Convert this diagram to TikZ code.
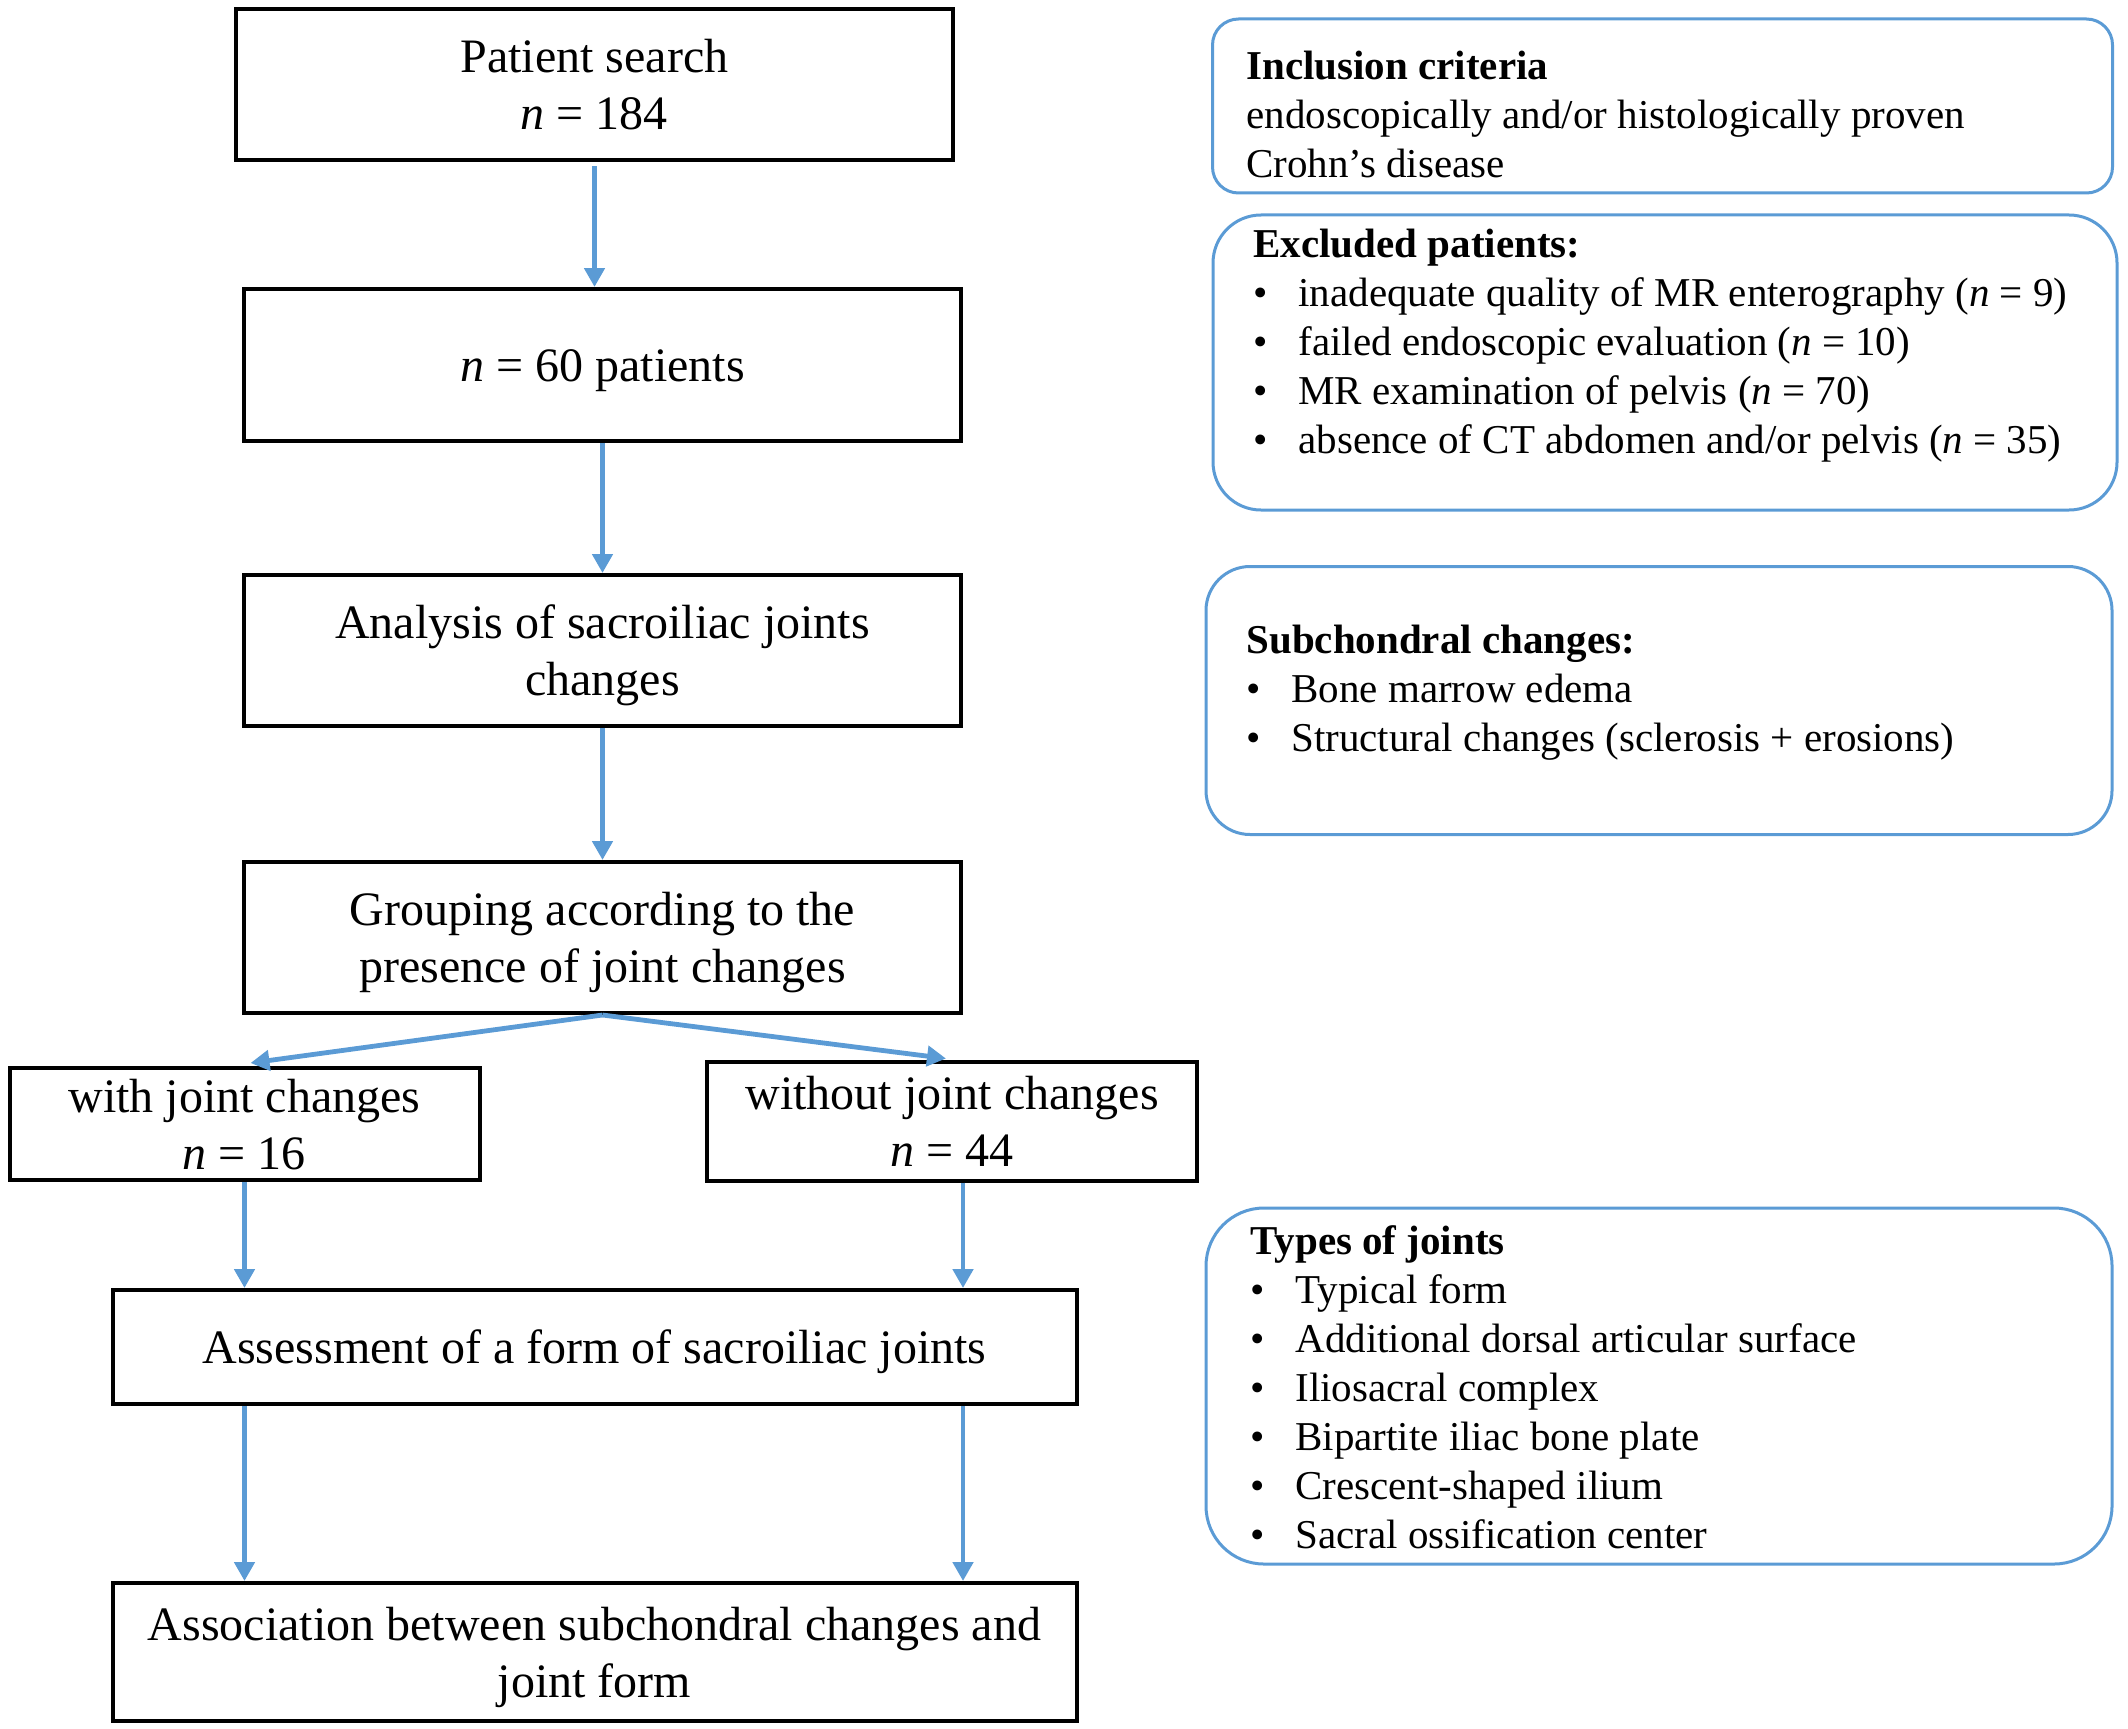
\documentclass[tikz,border=0pt]{standalone}
\usepackage{fontspec}
\setmainfont{Liberation Serif}
\usetikzlibrary{arrows.meta,calc}
\definecolor{ablue}{RGB}{91,155,213}
\newcommand{\fs}{\rule[-5.5pt]{0pt}{27.5pt}}
\begin{document}
\begin{tikzpicture}[x=0.5pt,y=-0.5pt,
  flow/.style={draw=black, line width=2pt, font=\fontsize{24}{28.5}\selectfont, align=center, inner sep=0pt},
  side/.style={draw=ablue, line width=1.5pt},
  arr/.style={draw=ablue, line width=2.4pt, -{Triangle[length=9.5pt,width=10pt]}},
  note/.style={font=\fontsize{20.5}{24.5}\selectfont, align=left, inner sep=0pt, anchor=north west}]
\useasboundingbox (0,0) rectangle (2128,1728);
\newcommand{\bl}{\makebox[22.5pt][l]{\textbullet}}

% flow boxes
\node[flow, minimum width=358.5pt, minimum height=75.5pt] (b1) at (594.5,85) {\fs Patient search\\\fs\textit{n} = 184};
\node[flow, minimum width=358.5pt, minimum height=76pt] (b2) at (602.5,365) {\fs\textit{n} = 60 patients};
\node[flow, minimum width=358.5pt, minimum height=75.5pt] (b3) at (602.5,650.5) {\fs Analysis of sacroiliac joints\\\fs changes};
\node[flow, minimum width=358.5pt, minimum height=75.5pt] (b4) at (602.5,937.5) {\fs Grouping according to the\\\fs presence of joint changes};
\node[flow, minimum width=235pt, minimum height=56pt] (b5) at (244.5,1124) {\fs with joint changes\\\fs\textit{n} = 16};
\node[flow, minimum width=245pt, minimum height=59.5pt] (b6) at (952,1121) {\fs without joint changes\\\fs\textit{n} = 44};
\node[flow, minimum width=482pt, minimum height=57pt] (b7) at (594.5,1347) {\fs Assessment of a form of sacroiliac joints};
\node[flow, minimum width=482pt, minimum height=69pt] (b8) at (594.5,1652) {\fs Association between subchondral changes and\\\fs joint form};

% connectors
\draw[arr, shorten <=2pt] (b1.south) -- (b2.north -| b1.south);
\draw[arr] (b2.south) -- (b3.north);
\draw[arr] (b3.south) -- (b4.north);
\draw[arr] (b4.south) -- ($(b5.north)+(6,-3)$);
\draw[arr] (b4.south) -- ($(b6.north)+(-6,-1)$);
\draw[arr] (b5.south) -- (b7.north -| b5.south);
\draw[arr] (b6.south -| b4.east) -- (b7.north -| b4.east);
\draw[arr] (b7.south -| b5.south) -- (b8.north -| b5.south);
\draw[arr] (b7.south -| b4.east) -- (b8.north -| b4.east);

% side boxes
\node[side, rounded corners=13pt, minimum width=450pt, minimum height=87pt] (inc) at (1662.5,106) {};
\node[side, rounded corners=24pt, minimum width=452pt, minimum height=147.5pt] (exc) at (1665,362.5) {};
\node[side, rounded corners=22pt, minimum width=453pt, minimum height=134pt] (sub) at (1659,700.5) {};
\node[side, rounded corners=29pt, minimum width=453pt, minimum height=178pt] (typ) at (1659,1386) {};

\node[note] (inct) at (1246,51) {\textbf{Inclusion criteria}\\endoscopically and/or histologically proven\\Crohn’s disease};
\node[note] (exct) at (1253,229) {\textbf{Excluded patients:}\\
\bl inadequate quality of MR enterography (\textit{n} = 9)\\
\bl failed endoscopic evaluation (\textit{n} = 10)\\
\bl MR examination of pelvis (\textit{n} = 70)\\
\bl absence of CT abdomen and/or pelvis (\textit{n} = 35)};
\node[note] (subt) at (1246,625) {\textbf{Subchondral changes:}\\
\bl Bone marrow edema\\
\bl Structural changes (sclerosis + erosions)};
\node[note] (typt) at (1250,1225) {\textbf{Types of joints}\\
\bl Typical form\\
\bl Additional dorsal articular surface\\
\bl Iliosacral complex\\
\bl Bipartite iliac bone plate\\
\bl Crescent-shaped ilium\\
\bl Sacral ossification center};
\end{tikzpicture}
\end{document}
